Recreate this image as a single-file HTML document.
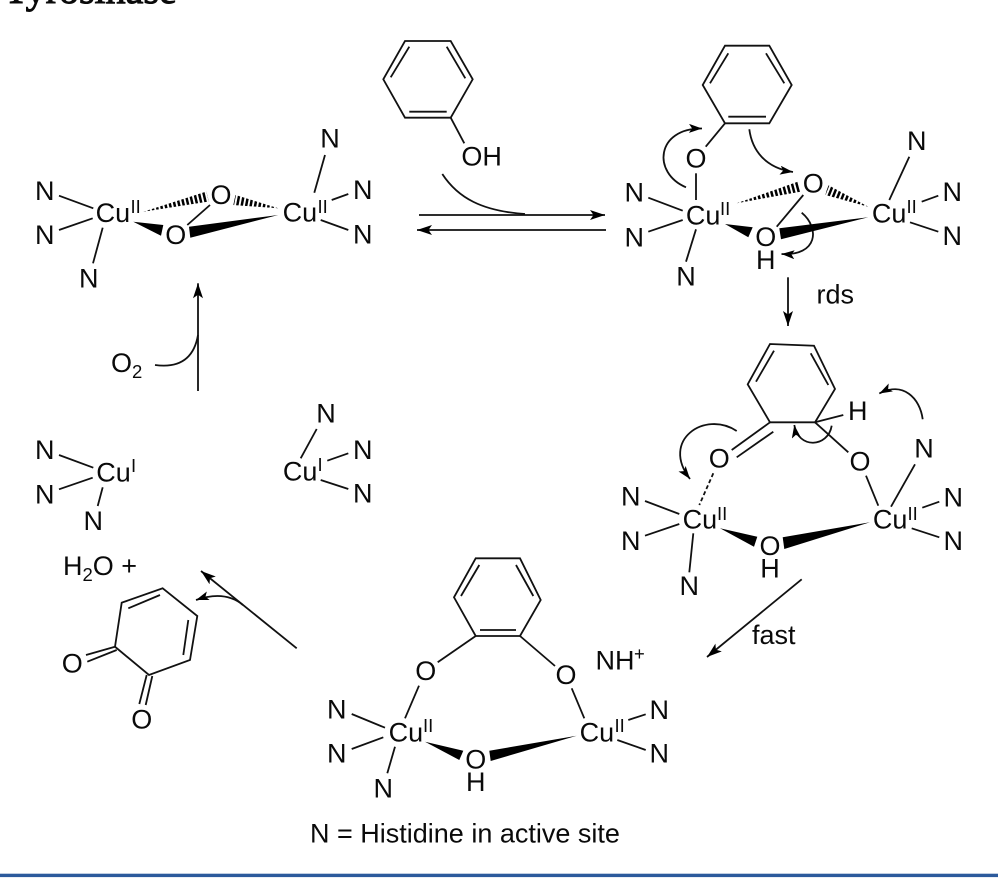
<!DOCTYPE html>
<html><head><meta charset="utf-8"><title>Tyrosinase</title>
<style>
html,body{margin:0;padding:0;background:#fff;width:998px;height:885px;overflow:hidden}
svg{display:block}
text{font-family:"Liberation Sans",sans-serif;font-size:27px;fill:#0a0a0a}
.m{text-anchor:middle}
.s{font-size:18.5px}
.l line,.l path,.l polyline,.l polygon{stroke:#111;stroke-width:1.8;fill:none;stroke-linejoin:miter}
.w polygon{fill:#000;stroke:none}
.h line{stroke:#000;stroke-width:13;stroke-dasharray:2.5 1.9}
</style></head><body>
<svg width="998" height="885" viewBox="0 0 998 885" xmlns="http://www.w3.org/2000/svg">
<defs>
<marker id="a" markerUnits="userSpaceOnUse" markerWidth="17" markerHeight="12" refX="15" refY="5" orient="auto"><path d="M0,0 L15,5 L0,10 L3.5,5z" fill="#000"/></marker>
<marker id="b" markerUnits="userSpaceOnUse" markerWidth="15" markerHeight="11" refX="13" refY="4.5" orient="auto"><path d="M0,0 L13,4.5 L0,9 L3,4.5z" fill="#000"/></marker>
<clipPath id="c1"><polygon points="143.3,211.7 206.5,191.5 209,201.5"/></clipPath>
<clipPath id="c2"><polygon points="278.3,208.3 235.5,195 233,205"/></clipPath>
<clipPath id="c3"><polygon points="736.7,203.3 797.7,181.7 800.3,191.7"/></clipPath>
<clipPath id="c4"><polygon points="868.3,206.7 828,185 825.4,195"/></clipPath>
</defs>

<text x="4" y="3" style="font-family:'Liberation Serif',serif;font-size:40px;stroke:#0a0a0a;stroke-width:1">Tyrosinase</text>

<g class="l">
<!-- top-left complex -->
<line x1="59" y1="195.7" x2="93.3" y2="208.3"/><line x1="59" y1="230" x2="92.7" y2="218.3"/><line x1="102.7" y1="227.7" x2="93" y2="263.3"/>
<line x1="325" y1="155" x2="314.3" y2="192.7"/><line x1="331.7" y1="200" x2="348.3" y2="194"/><line x1="320.7" y1="220" x2="348.3" y2="230"/>
<line x1="210" y1="205" x2="187.3" y2="225"/>
<!-- phenol -->
<polygon points="405,41 450.7,41 472.7,79.3 450.7,117.7 405,117.7 383.3,79.3"/>
<line x1="409.3" y1="46.7" x2="390.7" y2="77.3"/><line x1="446.7" y1="46.7" x2="465.3" y2="78.3"/><line x1="409.3" y1="111.7" x2="446.7" y2="111.7"/>
<line x1="450.7" y1="117.7" x2="464.3" y2="143.3"/>
<path d="M442.3,174 C458,198 482,211 525,214"/>
<!-- equilibrium -->
<line x1="419" y1="215" x2="605" y2="215" marker-end="url(#a)"/>
<line x1="606" y1="230" x2="417" y2="230" marker-end="url(#a)"/>
<!-- top-right complex -->
<polygon points="725,45.7 769.3,45.7 791.7,85 769.3,123.3 725,123.3 702.7,85"/>
<line x1="728.3" y1="53.3" x2="710" y2="83.3"/><line x1="766" y1="53.3" x2="784.3" y2="83.3"/><line x1="728.3" y1="116.7" x2="766" y2="116.7"/>
<line x1="725" y1="123.3" x2="705.7" y2="146.7"/><line x1="696" y1="173.3" x2="696" y2="200"/>
<line x1="648.3" y1="197.7" x2="682.7" y2="210.7"/><line x1="648.3" y1="231.7" x2="682.7" y2="220"/><line x1="696" y1="229.3" x2="686" y2="261.7"/>
<line x1="803.3" y1="195" x2="776.7" y2="226.7"/>
<line x1="909.3" y1="156.7" x2="889.3" y2="200"/><line x1="921.7" y1="201.7" x2="938.3" y2="195.7"/><line x1="910" y1="222.3" x2="938.3" y2="231.7"/>
<path d="M686,187.3 C652,173 656,128 702,128.5" marker-end="url(#b)"/>
<path d="M749.3,129.3 C752,150 765,168 793,172" marker-end="url(#b)"/>
<path d="M801.7,212.7 C820,228 818,256 781.5,254" marker-end="url(#b)"/>
<line x1="788" y1="277.3" x2="788" y2="326" marker-end="url(#a)"/>
<!-- middle-right complex -->
<polyline points="770,422.3 747.7,384.3 770,344 814,345.7 835,389 815,422.3 770,422.3"/>
<line x1="774" y1="350.7" x2="756" y2="381.7"/><line x1="810.7" y1="353.3" x2="828.3" y2="385"/>
<line x1="770" y1="422.3" x2="731.7" y2="450"/><line x1="773.3" y1="431.7" x2="736.7" y2="457.3"/>
<line x1="713.3" y1="473.3" x2="699.3" y2="505" stroke-dasharray="4 2.6"/>
<line x1="645" y1="501" x2="679.3" y2="514"/><line x1="645" y1="535.7" x2="679.3" y2="524"/><line x1="693.3" y1="533.3" x2="689.3" y2="572.3"/>
<line x1="815" y1="422.3" x2="848.3" y2="452.3"/><line x1="866" y1="475.7" x2="878.3" y2="505.7"/><line x1="815" y1="422.3" x2="843.3" y2="415"/>
<line x1="915" y1="464.3" x2="891" y2="506.7"/><line x1="922.3" y1="507.7" x2="939.3" y2="501.7"/><line x1="911.7" y1="528.3" x2="939.3" y2="537.3"/>
<path d="M736.7,431 C705,410 660,440 690,479" marker-end="url(#b)"/>
<path d="M922.7,419.3 C920,398 903,381 879.3,393.5" marker-end="url(#b)"/>
<path d="M831.7,425.7 C828,448 798,449 794.3,425" marker-end="url(#b)"/>
<line x1="801.7" y1="579.3" x2="707" y2="657" marker-end="url(#a)"/>
<!-- bottom complex -->
<polygon points="475.7,558.3 520,558.3 540.7,600 520,636 475.7,636 454,597.3"/>
<line x1="479.3" y1="565" x2="461" y2="596"/><line x1="516" y1="565" x2="533.3" y2="596"/><line x1="480" y1="630" x2="516" y2="630"/>
<line x1="475.7" y1="636" x2="437.7" y2="662.3"/><line x1="419" y1="685.7" x2="405" y2="718.3"/>
<line x1="520" y1="636" x2="555" y2="666"/><line x1="571.7" y1="688.3" x2="584.3" y2="718.3"/>
<line x1="351.7" y1="714" x2="385" y2="727.7"/><line x1="351.7" y1="749" x2="383.3" y2="737.3"/><line x1="395" y1="746.7" x2="387.3" y2="773.3"/>
<line x1="628.3" y1="720" x2="645.7" y2="714.3"/><line x1="617.3" y1="740" x2="645.7" y2="750"/>
<!-- Cu(I) -->
<line x1="59" y1="455" x2="93.3" y2="467.7"/><line x1="59" y1="489.3" x2="92.7" y2="477.7"/><line x1="102.7" y1="487.3" x2="97.7" y2="506"/>
<line x1="316.7" y1="429" x2="300.7" y2="458.3"/><line x1="327.3" y1="460.7" x2="348.3" y2="453.3"/><line x1="320.7" y1="480" x2="348.3" y2="489"/>
<!-- quinone -->
<polygon points="162.7,588.3 197.3,616 190,660 149,675 115,646.7 121.7,602.7"/>
<line x1="128.3" y1="608.3" x2="160" y2="595"/><line x1="188.3" y1="620" x2="183.3" y2="655"/>
<line x1="115" y1="646.7" x2="86" y2="655"/><line x1="116.7" y1="650" x2="87.3" y2="661.7"/>
<line x1="146.7" y1="675" x2="139.3" y2="704"/><line x1="152.3" y1="676" x2="145.7" y2="705"/>
<line x1="296.7" y1="648.3" x2="201" y2="571" marker-end="url(#a)"/>
<path d="M243,605 Q225,590 196,600" marker-end="url(#b)"/>
<!-- O2 arrow -->
<line x1="198" y1="391" x2="198" y2="283.3" marker-end="url(#a)"/>
<path d="M155,365 Q192,370 198,335"/>
</g>

<g class="w">
<polygon points="133.3,221.7 163.3,225 161,235.7"/>
<polygon points="278.3,215 189,226.7 190.3,237.7"/>
<polygon points="725,224 752.7,227.3 748.3,237.3"/>
<polygon points="868.3,217.3 779.3,228.3 781,239.3"/>
<polygon points="720,528.3 757.3,536.7 754,546.7"/>
<polygon points="870,522.3 782.7,537.3 784.3,549"/>
<polygon points="425,741.7 463.3,750.7 459.3,760"/>
<polygon points="576.7,735.7 489.3,750.7 490.7,761"/>
</g>
<g class="h">
<line x1="143.3" y1="211.7" x2="207.7" y2="196.5" clip-path="url(#c1)"/>
<line x1="278.3" y1="208.3" x2="234.3" y2="200" clip-path="url(#c2)"/>
<line x1="736.7" y1="203.3" x2="799" y2="186.7" clip-path="url(#c3)"/>
<line x1="868.3" y1="206.7" x2="826.7" y2="190" clip-path="url(#c4)"/>
</g>

<!-- labels: top-left -->
<text class="m" x="44.7" y="200">N</text><text class="m" x="44.7" y="244">N</text><text class="m" x="88.7" y="287.7">N</text>
<text x="95.6" y="222">Cu</text><text class="s" x="130.5" y="213">II</text>
<text class="m" x="221" y="204">O</text><text class="m" x="175.7" y="244">O</text>
<text x="282.6" y="221.7">Cu</text><text class="s" x="317.5" y="213">II</text>
<text class="m" x="330" y="147.3">N</text><text class="m" x="362.7" y="199">N</text><text class="m" x="362.7" y="243.3">N</text>
<text x="461.4" y="165.7">OH</text>
<!-- top-right -->
<text class="m" x="696" y="167.7">O</text>
<text class="m" x="634.3" y="201.7">N</text><text class="m" x="634.3" y="246.7">N</text><text class="m" x="686" y="285.7">N</text>
<text x="685.9" y="224.3">Cu</text><text class="s" x="720" y="215">II</text>
<text class="m" x="813.3" y="192.3">O</text><text class="m" x="765.7" y="246">O</text><text class="m" x="765.7" y="269">H</text>
<text x="871.9" y="222.7">Cu</text><text class="s" x="906.5" y="213">II</text>
<text class="m" x="916.7" y="150">N</text><text class="m" x="952.3" y="201">N</text><text class="m" x="952.3" y="245">N</text>
<text x="816.5" y="303.3">rds</text>
<!-- middle-right -->
<text class="m" x="719.3" y="467.7">O</text><text class="m" x="860" y="470.7">O</text><text class="m" x="857.7" y="420">H</text>
<text class="m" x="630.7" y="505.7">N</text><text class="m" x="630.7" y="550">N</text><text class="m" x="689.3" y="595">N</text>
<text x="682.6" y="528.3">Cu</text><text class="s" x="717" y="520">II</text>
<text class="m" x="770" y="555">O</text><text class="m" x="770" y="577.7">H</text>
<text x="872.9" y="528.3">Cu</text><text class="s" x="907.5" y="520">II</text>
<text class="m" x="924" y="457.7">N</text><text class="m" x="953.3" y="506.7">N</text><text class="m" x="953.3" y="550">N</text>
<text x="752" y="644">fast</text>
<!-- bottom -->
<text class="m" x="425.7" y="680">O</text><text class="m" x="566" y="684">O</text>
<text x="595.5" y="669.3">NH</text><text class="s" x="634" y="660">+</text>
<text class="m" x="336.7" y="718.3">N</text><text class="m" x="336.7" y="762.3">N</text><text class="m" x="383.3" y="797.7">N</text>
<text x="388.6" y="741.7">Cu</text><text class="s" x="423" y="732">II</text>
<text class="m" x="475.7" y="768.3">O</text><text class="m" x="475.7" y="791">H</text>
<text x="579.6" y="741.7">Cu</text><text class="s" x="614.5" y="732">II</text>
<text class="m" x="659.3" y="719">N</text><text class="m" x="659.3" y="762.7">N</text>
<text x="310" y="842.7">N = Histidine in active site</text>
<!-- Cu(I) -->
<text class="m" x="44.7" y="459">N</text><text class="m" x="44.7" y="503.3">N</text><text class="m" x="93.3" y="530">N</text>
<text x="96.3" y="481.7">Cu</text><text class="s" x="131" y="472">I</text>
<text class="m" x="326" y="422.3">N</text><text class="m" x="362.7" y="459">N</text><text class="m" x="362.7" y="502.3">N</text>
<text x="282.9" y="480.7">Cu</text><text class="s" x="317.5" y="471">I</text>
<!-- product -->
<text x="63" y="575">H<tspan class="s" dy="6">2</tspan><tspan dy="-6">O +</tspan></text>
<text class="m" x="72.3" y="672.7">O</text><text class="m" x="141.7" y="728.3">O</text>
<text x="111" y="372">O<tspan class="s" dy="6">2</tspan></text>

<rect x="0" y="873.7" width="998" height="3.4" fill="#2c5a9c"/>
</svg>
</body></html>
